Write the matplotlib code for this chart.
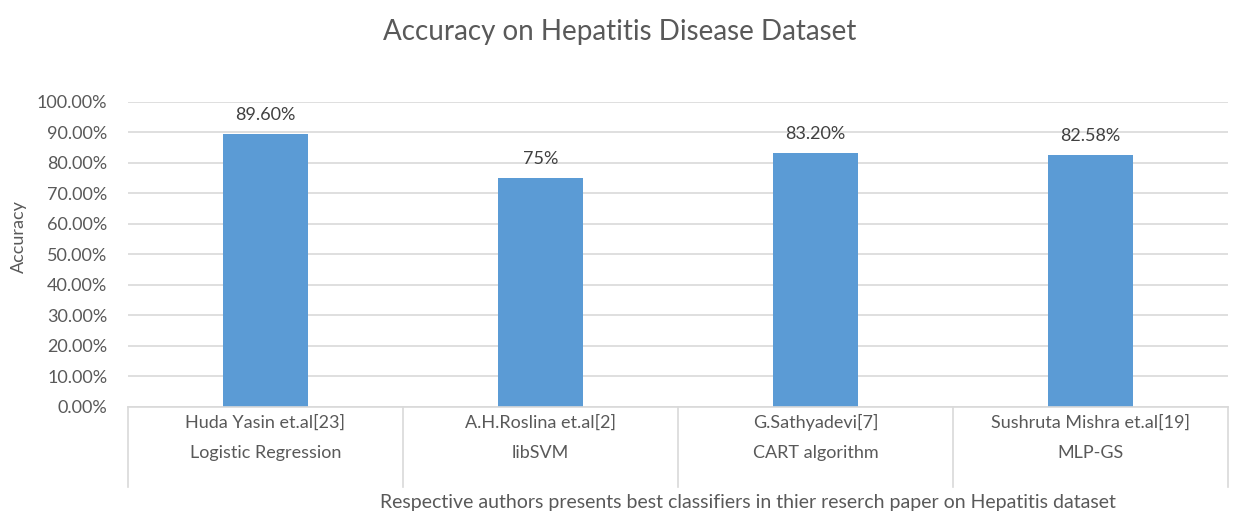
import matplotlib

matplotlib.use("Agg")
import matplotlib.pyplot as plt  # noqa: E402
from matplotlib.ticker import FuncFormatter, MultipleLocator  # noqa: E402
from matplotlib.transforms import blended_transform_factory  # noqa: E402

AUTHORS = [
    "Huda Yasin et.al[23]",
    "A.H.Roslina et.al[2]",
    "G.Sathyadevi[7]",
    "Sushruta Mishra et.al[19]",
]
METHODS = ["Logistic Regression", "libSVM", "CART algorithm", "MLP-GS"]
ACCURACY = [0.896, 0.75, 0.832, 0.8258]
VALUE_LABELS = ["89.60%", "75%", "83.20%", "82.58%"]

BAR_COLOR = "#5b9bd5"
TEXT_COLOR = "#595959"
GRID_COLOR = "#d9d9d9"

plt.rcParams["font.family"] = ["Lato", "DejaVu Sans"]

fig = plt.figure(figsize=(12.39, 5.18), dpi=100)
axis = fig.add_axes([0.1033, 0.2143, 0.8878, 0.589])

positions = list(range(len(ACCURACY)))
axis.bar(positions, ACCURACY, width=0.31, color=BAR_COLOR, zorder=2)
for pos, value, label in zip(positions, ACCURACY, VALUE_LABELS):
    axis.annotate(
        label,
        (pos, value),
        xytext=(0, 8),
        textcoords="offset points",
        ha="center",
        va="bottom",
        fontsize=13,
        color="#404040",
    )

axis.set_xlim(-0.5, len(ACCURACY) - 0.5)
axis.set_ylim(0, 1.0)
axis.yaxis.set_major_locator(MultipleLocator(0.1))
axis.yaxis.set_major_formatter(FuncFormatter(lambda v, _: f"{v * 100:.2f}%"))
axis.grid(axis="y", color=GRID_COLOR, lw=1.2, zorder=0)
axis.tick_params(axis="y", length=0, labelsize=13, labelcolor=TEXT_COLOR, pad=15)
axis.set_xticks([])
axis.spines[["top", "right", "left"]].set_visible(False)
axis.spines["bottom"].set_color(GRID_COLOR)
axis.spines["bottom"].set_linewidth(1.2)

# two-level category axis: author row, method row, boxed by divider lines
trans = blended_transform_factory(axis.transData, axis.transAxes)
for edge in range(len(ACCURACY) + 1):
    axis.plot(
        [edge - 0.5, edge - 0.5],
        [0, -0.262],
        transform=trans,
        color=GRID_COLOR,
        lw=1.2,
        clip_on=False,
    )
for pos, author, method in zip(positions, AUTHORS, METHODS):
    axis.text(pos, -0.05, author, transform=trans, ha="center", va="center",
              fontsize=13, color=TEXT_COLOR)
    axis.text(pos, -0.152, method, transform=trans, ha="center", va="center",
              fontsize=13, color=TEXT_COLOR)

axis.set_ylabel("Accuracy", fontsize=13, color=TEXT_COLOR)
axis.yaxis.set_label_coords(-0.092, 0.56)

fig.text(0.5, 0.938, "Accuracy on Hepatitis Disease Dataset", ha="center",
         va="center", fontsize=20, color=TEXT_COLOR)
fig.text(0.604, 0.03,
         "Respective authors presents best classifiers in thier reserch paper on Hepatitis dataset",
         ha="center", va="center", fontsize=14, color=TEXT_COLOR)

fig.savefig("out.png", dpi=100, facecolor="white")
